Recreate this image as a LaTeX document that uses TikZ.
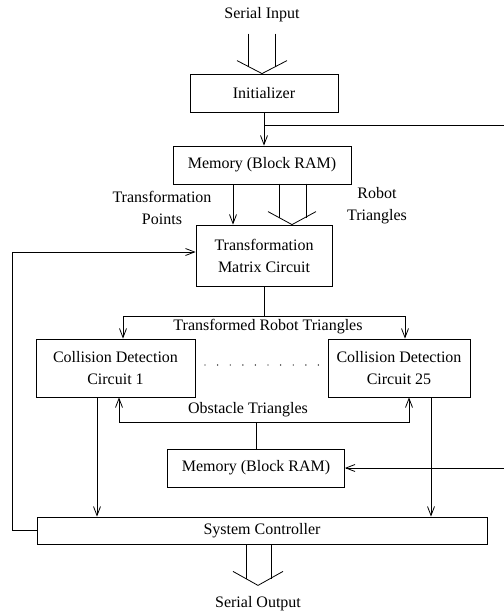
\documentclass[tikz,border=0pt]{standalone}
\usepackage{fontspec}
\setmainfont{Liberation Serif}
\usetikzlibrary{arrows.meta,calc}

\begin{document}
\begin{tikzpicture}[x=1pt,y=-1pt,line width=0.8pt,
  every node/.style={font=\fontsize{16}{22}\selectfont,inner sep=0pt},
  blk/.style={draw,align=center},
  lbl/.style={align=center},
  arr/.style={-{Straight Barb[length=9pt,width=7pt]}}]
\useasboundingbox (0,0) rectangle (503,612);
% blocks
\node[blk,minimum width=148,minimum height=38] (init) at (264,93) {Initializer};
\node[blk,minimum width=178,minimum height=38] (mem1) at (262,165) {Memory (Block RAM)};
\node[blk,minimum width=136,minimum height=61] (tmc) at (264,255.5) {Transformation\\Matrix Circuit};
\node[blk,minimum width=159,minimum height=58] (cd1) at (115.5,368) {Collision Detection\\Circuit 1};
\node[blk,minimum width=142,minimum height=58] (cd25) at (399,368) {Collision Detection\\Circuit 25};
\node[blk,minimum width=177,minimum height=38] (mem2) at (256,468) {Memory (Block RAM)};
\node[blk,minimum width=450,minimum height=27] (sc) at (262,530.5) {System Controller};
% labels
\node (in) at (262,15) {Serial Input};
\node (out) at (258,604) {Serial Output};
\node[lbl] (tp) at (162,208) {Transformation\\Points};
\node[lbl] (rt) at (377,206) {Robot\\Triangles};
\node (trt) at (268,327) {Transformed Robot Triangles};
\node (ot) at (248,410) {Obstacle Triangles};
\foreach \i in {0,...,9}
  \fill (205+\i*12.6,365) circle (0.7);
% serial input
\coordinate (tin) at ($(init.north)+(-2,0)$);
\draw ($(tin)+(-14,-40)$) -- ++(0,33);
\draw ($(tin)+(13,-40)$) -- ++(0,33);
\draw ($(tin)+(-25,-13)$) -- (tin) -- ($(tin)+(25,-13)$);
% initializer
\draw[arr] (init.south) -- (init.south |- mem1.north);
\coordinate (br) at ($(init.south)+(0,13)$);
\draw[arr] (br) -- ++(246,0) |- (mem2.east);
% memory to transformation
\coordinate (tpin) at ($(mem1.south)+(-29,0)$);
\draw[arr] (tpin) -- (tpin |- tmc.north);
\coordinate (trin) at ($(tmc.north)+(28,0)$);
\draw ($(trin)+(-13,-41)$) -- ++(0,34);
\draw ($(trin)+(14,-41)$) -- ++(0,34);
\draw ($(trin)+(-24,-13)$) -- (trin) -- ($(trin)+(24,-13)$);
% transformed triangles
\draw (tmc.south) -- ++(0,30) coordinate (trj);
\draw[arr] (trj) -| ([xshift=7.5pt]cd1.north);
\draw[arr] (trj) -| ([xshift=6pt]cd25.north);
% obstacle triangles
\draw (mem2.north) -- ++(0,-26) coordinate (obj);
\draw[arr] (obj) -| ([xshift=3.5pt]cd1.south);
\draw[arr] (obj) -| ([xshift=10pt]cd25.south);
% to controller
\draw[arr] ([xshift=-18.5pt]cd1.south) coordinate (c1o) -- (c1o |- sc.north);
\draw[arr] ([xshift=32pt]cd25.south) coordinate (c25o) -- (c25o |- sc.north);
\draw[arr] (sc.west) -- ++(-24,0) |- ([yshift=3.5pt]tmc.west);
% serial output
\coordinate (tout) at ($(sc.south)+(-4,41)$);
\draw ($(tout)+(-12,-41)$) -- ++(0,35);
\draw ($(tout)+(13,-41)$) -- ++(0,35);
\draw ($(tout)+(-25,-14)$) -- (tout) -- ($(tout)+(25,-14)$);
\end{tikzpicture}
\end{document}
